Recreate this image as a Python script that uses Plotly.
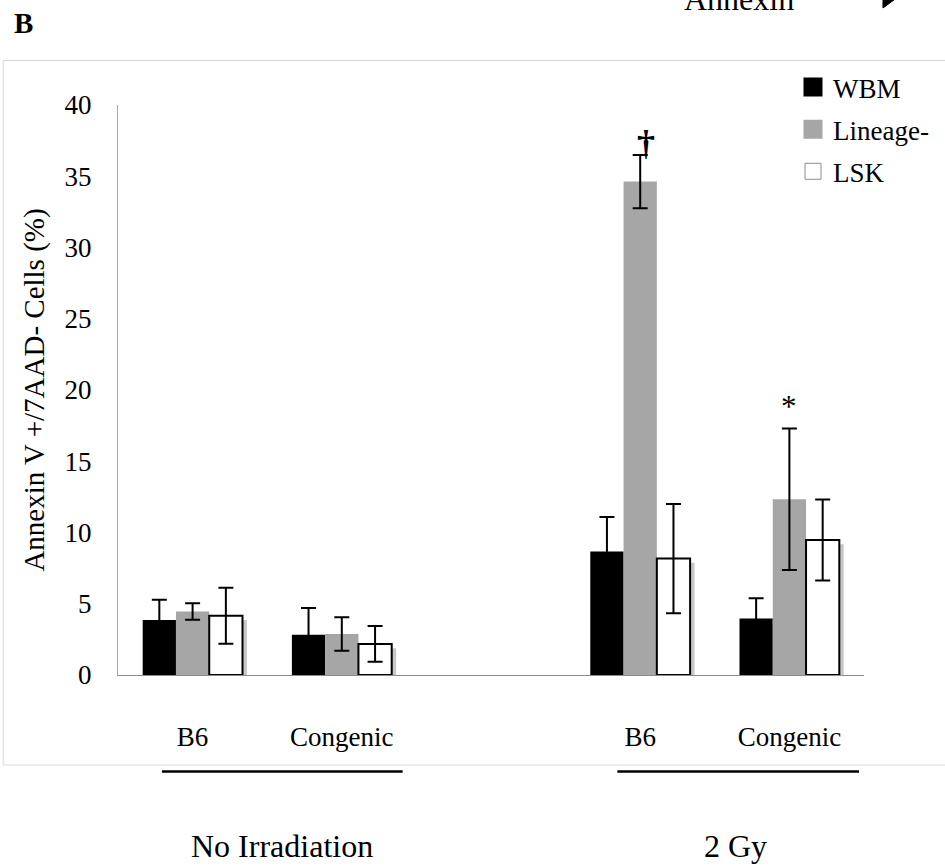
import plotly.graph_objects as go

# ---------------- data ----------------
group_labels = ["B6", "Congenic", "B6", "Congenic"]
group_pos = [0, 1, 3, 4]          # gap between the two treatment blocks
treatments = ["No Irradiation", "2 Gy"]

wbm = [3.86, 2.83, 8.66, 3.97]
wbm_err = [1.42, 1.87, 2.43, 1.42]
lineage = [4.46, 2.88, 34.63, 12.33]
lineage_err = [0.58, 1.17, 1.87, 4.97]
lsk = [4.16, 2.18, 8.17, 9.48]
lsk_err = [1.96, 1.25, 3.83, 2.84]

y_ticks = [0, 5, 10, 15, 20, 25, 30, 35, 40]

FONT = "Liberation Serif, Times New Roman, serif"
BW = 0.223

fig = go.Figure()

fig.add_trace(go.Bar(x=group_pos, y=wbm, width=BW, offset=-1.5 * BW,
                     marker=dict(color="black", line=dict(width=0)),
                     error_y=dict(type="data", array=wbm_err, color="black", thickness=2, width=7.5),
                     showlegend=False, name="WBM"))
fig.add_trace(go.Bar(x=group_pos, y=lineage, width=BW, offset=-0.5 * BW,
                     marker=dict(color="#a6a6a6", line=dict(width=0)),
                     error_y=dict(type="data", array=lineage_err, color="black", thickness=2, width=7.5),
                     showlegend=False, name="Lineage-"))
# drop shadow of LSK bars
fig.add_trace(go.Bar(x=group_pos, y=[v - 0.3 for v in lsk], width=BW, offset=0.5 * BW + 0.03,
                     marker=dict(color="#c8c8c8", line=dict(width=0)),
                     showlegend=False, hoverinfo="skip"))
fig.add_trace(go.Bar(x=group_pos, y=lsk, width=BW, offset=0.5 * BW,
                     marker=dict(color="white", line=dict(color="black", width=2)),
                     error_y=dict(type="data", array=lsk_err, color="black", thickness=2, width=7.5),
                     showlegend=False, name="LSK"))

# legend entries
for name, col, lc, lw in [("WBM", "black", "black", 3), ("Lineage-", "#a6a6a6", "#a6a6a6", 3),
                          ("LSK", "white", "#8c8c8c", 1)]:
    fig.add_trace(go.Scatter(x=[None], y=[None], mode="markers", name=name, legendgroup=name,
                             marker=dict(symbol="square", size=16, color=col, line=dict(color=lc, width=lw))))

W, H = 945, 867
L, R, T, B = 118, 80, 105, 192
pw, ph = W - L - R, H - T - B


def px(x):
    return (x - L) / pw


def py(y):
    return (H - B - y) / ph


annotations = [
    dict(x=3, y=lineage[2] + lineage_err[2], xref="x", yref="y", text="<b>†</b>", showarrow=False,
         yanchor="middle", yshift=12, xshift=6, font=dict(family=FONT, size=36, color="black")),
    dict(x=4, y=lineage[3] + lineage_err[3], xref="x", yref="y", text="*", showarrow=False,
         yanchor="middle", yshift=22, font=dict(family=FONT, size=31, color="black")),
    dict(x=px(282.5), y=py(846), xref="paper", yref="paper", text=treatments[0], showarrow=False,
         xanchor="center", yanchor="middle", font=dict(family=FONT, size=32, color="black")),
    dict(x=px(736), y=py(846), xref="paper", yref="paper", text=treatments[1], showarrow=False,
         xanchor="center", yanchor="middle", font=dict(family=FONT, size=32, color="black")),
    dict(x=px(23), y=py(23), xref="paper", yref="paper", text="<b>B</b>", showarrow=False,
         xanchor="center", yanchor="middle", font=dict(family=FONT, size=29, color="black")),
    dict(x=px(740), y=py(-1), xref="paper", yref="paper", text="Annexin", showarrow=False,
         xanchor="center", yanchor="middle", font=dict(family=FONT, size=32, color="black")),
]

shapes = [
    dict(type="rect", xref="paper", yref="paper", x0=px(3), x1=px(960), y0=py(765), y1=py(60.5),
         line=dict(color="#d9d9d9", width=1), fillcolor="rgba(0,0,0,0)", layer="below"),
    dict(type="line", xref="paper", yref="paper", x0=px(162), x1=px(403), y0=py(771.5), y1=py(771.5),
         line=dict(color="black", width=2.5)),
    dict(type="line", xref="paper", yref="paper", x0=px(618), x1=px(860), y0=py(771.5), y1=py(771.5),
         line=dict(color="black", width=2.5)),
    dict(type="path", xref="paper", yref="paper",
         path=f"M {px(884)} {py(-14)} L {px(899)} {py(-3)} L {px(884)} {py(8)} Z",
         fillcolor="black", line=dict(color="black", width=1)),
]

fig.update_layout(
    width=W, height=H,
    margin=dict(l=L, r=R, t=T, b=B, pad=0),
    paper_bgcolor="white", plot_bgcolor="white",
    barmode="overlay",
    font=dict(family=FONT, size=27, color="black"),
    showlegend=True,
    legend=dict(x=px(793), y=py(63), xanchor="left", yanchor="top", tracegroupgap=4,
                font=dict(family=FONT, size=27, color="black"), bgcolor="rgba(0,0,0,0)"),
    annotations=annotations,
    shapes=shapes,
)

fig.update_xaxes(range=[-0.5, 4.5], tickvals=group_pos, ticktext=group_labels,
                 showline=True, linecolor="#8c8c8c", linewidth=1, ticks="", showgrid=False,
                 zeroline=False, ticklabelstandoff=38, tickfont=dict(family=FONT, size=27, color="black"))
fig.update_yaxes(range=[0, 40], tickvals=y_ticks, showline=True, linecolor="#a6a6a6", linewidth=1,
                 ticks="", showgrid=False, zeroline=False, ticklabelstandoff=20,
                 tickfont=dict(family=FONT, size=27, color="black"),
                 title=dict(text="Annexin V +/7AAD- Cells (%)", standoff=11,
                            font=dict(family=FONT, size=29, color="black")))

fig.write_html("out.html")
